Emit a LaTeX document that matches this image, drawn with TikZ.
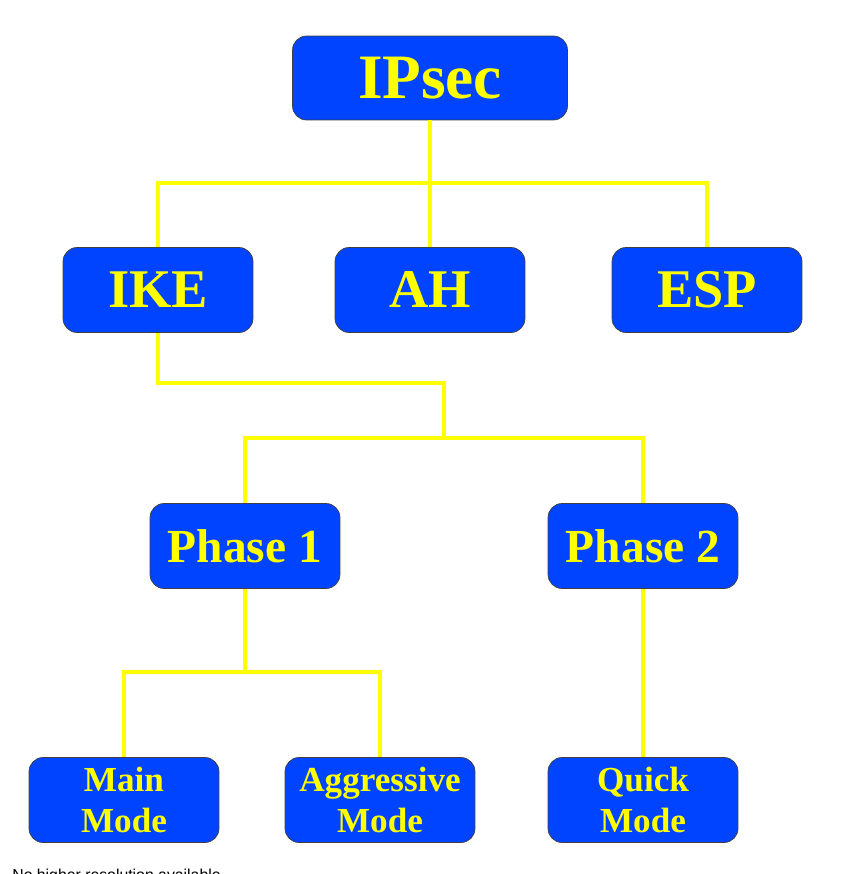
\documentclass[tikz,border=0pt]{standalone}
\usepackage{fontspec}
\setmainfont{Liberation Serif}
\setsansfont{Liberation Sans}
\definecolor{boxblue}{RGB}{0,68,255}
\definecolor{linkyellow}{RGB}{255,255,0}
\begin{document}
\begin{tikzpicture}[x=0.02cm,y=-0.02cm,
		box/.style={draw=black!75,fill=boxblue,text=linkyellow,rounded corners=0.28cm,
			minimum width=3.8cm,minimum height=1.7cm,inner sep=0pt,align=center,
			font=\bfseries\fontsize{27}{30}\selectfont},
		modebox/.style={box,font=\bfseries\fontsize{20}{23.5}\selectfont},
		link/.style={linkyellow,line width=2.2pt}]
			\useasboundingbox (0,0) rectangle (848,874);

			% joints of the yellow links
			\coordinate (topbus) at (430,183);
			\coordinate (ikejoin) at (444,383);
			\coordinate (phasebus) at (444,438);
			\coordinate (modebus) at (245,672);

			\node[box,minimum width=5.5cm,minimum height=1.68cm,font=\bfseries\fontsize{36}{40}\selectfont] (ipsec) at (430,78) {IPsec};
			\node[box,font=\bfseries\fontsize{31}{34}\selectfont] (ike) at (158,290) {IKE};
			\node[box,font=\bfseries\fontsize{31}{34}\selectfont] (ah) at (430,290) {AH};
			\node[box,font=\bfseries\fontsize{31}{34}\selectfont] (esp) at (707,290) {ESP};
			\node[box] (ph1) at (245,546) {Phase 1};
			\node[box] (ph2) at (643,546) {Phase 2};
			\node[modebox] (main) at (124,800) {Main\\Mode};
			\node[modebox] (aggr) at (380,800) {Aggressive\\Mode};
			\node[modebox] (quick) at (643,800) {Quick\\Mode};

			\draw[link] (ipsec.south) -- (ah.north);
			\draw[link] (ike.north) |- (topbus) -| (esp.north);
			\draw[link] (ike.south) |- (ikejoin) -- (phasebus);
			\draw[link] (ph1.north) |- (phasebus) -| (ph2.north);
			\draw[link] (ph1.south) -- (modebus);
			\draw[link] (main.north) |- (modebus) -| (aggr.north);
			\draw[link] (ph2.south) -- (quick.north);

			\node[anchor=north west,inner sep=0pt,font=\sffamily\fontsize{9}{10}\selectfont] (note) at (12,869) {No higher resolution available.};
		\end{tikzpicture}
\end{document}
